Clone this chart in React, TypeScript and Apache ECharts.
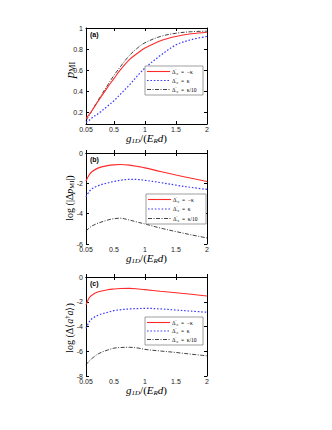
import React, { useEffect, useRef } from "react";
import * as echarts from "echarts";

const X = [0.05, 0.1, 0.15, 0.25, 0.4, 0.5, 0.6, 0.75, 0.9, 1, 1.25, 1.5, 1.75, 2];

const A_RED = [0.14, 0.18, 0.22, 0.31, 0.44, 0.52, 0.6, 0.7, 0.77, 0.81, 0.88, 0.92, 0.945, 0.96];
const A_BLUE = [0.105, 0.125, 0.15, 0.19, 0.26, 0.31, 0.37, 0.46, 0.56, 0.62, 0.74, 0.84, 0.89, 0.92];
const A_BLACK = [0.12, 0.17, 0.22, 0.32, 0.46, 0.55, 0.63, 0.74, 0.82, 0.86, 0.92, 0.95, 0.965, 0.97];

const B_RED = [-1.85, -1.45, -1.22, -0.98, -0.83, -0.78, -0.76, -0.8, -0.9, -0.98, -1.22, -1.45, -1.67, -1.88];
const B_BLUE = [-2.9, -2.55, -2.35, -2.15, -1.97, -1.88, -1.8, -1.74, -1.75, -1.8, -1.95, -2.12, -2.27, -2.4];
const B_BLACK = [-5.15, -4.95, -4.8, -4.62, -4.42, -4.33, -4.3, -4.42, -4.58, -4.68, -4.95, -5.18, -5.4, -5.6];

const C_RED = [-2.25, -1.7, -1.45, -1.2, -1.03, -0.97, -0.93, -0.92, -0.97, -1.02, -1.15, -1.27, -1.4, -1.53];
const C_BLUE = [-4.15, -3.65, -3.35, -3.08, -2.85, -2.72, -2.65, -2.58, -2.55, -2.53, -2.58, -2.67, -2.76, -2.85];
const C_BLACK = [-7.1, -6.8, -6.57, -6.2, -5.9, -5.75, -5.7, -5.68, -5.75, -5.85, -5.98, -6.1, -6.24, -6.37];

const X_TICKS = [0.05, 0.5, 1, 1.5, 2];
const A_TICKS = [0.2, 0.4, 0.6, 0.8, 1];

const PANELS = [
  { id: "(a)", red: A_RED, blue: A_BLUE, black: A_BLACK, yMin: 0.09, yMax: 1, yTicks: A_TICKS },
  { id: "(b)", red: B_RED, blue: B_BLUE, black: B_BLACK, yMin: -6, yMax: 0, yTicks: [-6, -4, -2, 0] },
  { id: "(c)", red: C_RED, blue: C_BLUE, black: C_BLACK, yMin: -8, yMax: 0, yTicks: [-8, -6, -4, -2, 0] },
];

const LEGEND_LABELS = ["−κ", "κ", "κ/10"];

const GRIDS = [
  { left: 86, top: 28, width: 121, height: 96 },
  { left: 86, top: 153, width: 121, height: 91 },
  { left: 86, top: 277, width: 121, height: 99 },
];

const LEGEND_BOX = [
  { x: 145, y: 66, w: 58, h: 29 },
  { x: 146, y: 194, w: 60, h: 30 },
  { x: 145, y: 317, w: 58, h: 28 },
];

const RED = "#ff2a2a";
const BLUE = "#3b3bff";
const BLACK = "#111";
const STYLES = [
  { color: RED, width: 1.1, dash: "solid" as any },
  { color: BLUE, width: 1.2, dash: [1.6, 1.8] as any },
  { color: BLACK, width: 0.8, dash: [4, 1.5, 1, 1.5] as any },
];

const SERIF = "Liberation Serif";
const SANS = "Liberation Sans";

export default function App() {
  const ref = useRef<HTMLDivElement>(null);
  useEffect(() => {
    if (!ref.current) return;
    const chart = echarts.init(ref.current, undefined, { renderer: "svg" });

    const xAxis: any[] = [];
    const yAxis: any[] = [];
    const series: any[] = [];
    const graphic: any[] = [];

    PANELS.forEach((p, i) => {
      const g = GRIDS[i];
      xAxis.push({
        gridIndex: i,
        type: "value",
        min: 0.05,
        max: 2,
        axisLine: { show: true, lineStyle: { color: "#000", width: 1 } },
        axisTick: { show: true, inside: true, length: 3, customValues: X_TICKS, lineStyle: { color: "#000" } },
        axisLabel: {
          customValues: X_TICKS,
          formatter: (v: number) => String(v),
          fontSize: 7,
          color: "#222",
          margin: 2,
          fontFamily: SANS,
        },
        splitLine: { show: false },
      });
      xAxis.push({
        gridIndex: i,
        type: "value",
        position: "top",
        min: 0.05,
        max: 2,
        axisLine: { show: true, lineStyle: { color: "#000", width: 1 } },
        axisTick: { show: true, inside: true, length: 3, customValues: X_TICKS, lineStyle: { color: "#000" } },
        axisLabel: { show: false },
        splitLine: { show: false },
      });
      yAxis.push({
        gridIndex: i,
        type: "value",
        min: p.yMin,
        max: p.yMax,
        axisLine: { show: true, lineStyle: { color: "#000", width: 1 } },
        axisTick: { show: true, inside: true, length: 3, customValues: p.yTicks, lineStyle: { color: "#000" } },
        axisLabel: {
          customValues: p.yTicks,
          formatter: (v: number) => String(v),
          fontSize: 7,
          color: "#222",
          margin: 3,
          fontFamily: SANS,
        },
        splitLine: { show: false },
      });
      yAxis.push({
        gridIndex: i,
        type: "value",
        position: "right",
        min: p.yMin,
        max: p.yMax,
        axisLine: { show: true, lineStyle: { color: "#000", width: 1 } },
        axisTick: { show: true, inside: true, length: 3, customValues: p.yTicks, lineStyle: { color: "#000" } },
        axisLabel: { show: false },
        splitLine: { show: false },
      });

      [p.red, p.blue, p.black].forEach((arr, k) => {
        const s = STYLES[k];
        series.push({
          type: "line",
          xAxisIndex: i * 2,
          yAxisIndex: i * 2,
          data: X.map((x, j) => [x, arr[j]]),
          showSymbol: false,
          smooth: 0.35,
          lineStyle: { color: s.color, width: s.width, type: s.dash },
          z: 3 - k + 2,
        });
      });

      // panel label
      graphic.push({
        type: "text",
        x: g.left + 4,
        y: g.top + 6,
        z: 100,
        style: { text: p.id, fontSize: 7, fontWeight: "bold", fontFamily: SANS, fill: "#000", verticalAlign: "middle" },
      });

      // x title
      graphic.push({
        type: "text",
        x: g.left + g.width / 2,
        y: g.top + g.height + 14,
        z: 100,
        style: {
          text: "{i|g}{s|1D}{n|/(}{i|E}{s|R}{i|d}{n|)}",
          align: "center",
          verticalAlign: "middle",
          rich: {
            i: { fontFamily: SERIF, fontStyle: "italic", fontSize: 11, fill: "#000" },
            n: { fontFamily: SERIF, fontSize: 11, fill: "#000" },
            s: { fontFamily: SERIF, fontStyle: "italic", fontSize: 7, fill: "#000", padding: [5, 0, 0, 0] },
          },
        },
      });

      // legend
      const lb = LEGEND_BOX[i];
      graphic.push({
        type: "rect",
        z: 100,
        shape: { x: lb.x, y: lb.y, width: lb.w, height: lb.h },
        style: { fill: "#fff", stroke: "#777", lineWidth: 0.7 },
      });
      LEGEND_LABELS.forEach((lab, k) => {
        const s = STYLES[k];
        const ry = lb.y + 5.5 + k * (lb.h - 11) / 2;
        graphic.push({
          type: "line",
          z: 101,
          shape: { x1: lb.x + 2, y1: ry, x2: lb.x + 25, y2: ry },
          style: { stroke: s.color, lineWidth: s.width, lineDash: s.dash === "solid" ? null : s.dash },
        });
        graphic.push({
          type: "text",
          z: 101,
          x: lb.x + 27,
          y: ry,
          style: {
            text: "{n|Δ}{p|′}{s|c}{n|  =  " + lab + "}",
            verticalAlign: "middle",
            rich: {
              n: { fontFamily: SERIF, fontSize: 5.5, fill: "#000" },
              p: { fontFamily: SERIF, fontSize: 4, fill: "#000", padding: [0, 0, 3, 0] },
              s: { fontFamily: SERIF, fontSize: 4, fill: "#000", padding: [3, 0, 0, 0] },
            },
          },
        });
      });
    });

    const ROT = Math.PI / 2;
    const YT_X = 69;
    // y titles
    graphic.push({
      type: "text",
      x: YT_X,
      y: 70,
      rotation: ROT,
      z: 100,
      style: {
        text: "{i|p}{s|MI}",
        align: "center",
        verticalAlign: "middle",
        rich: {
          i: { fontFamily: SERIF, fontStyle: "italic", fontSize: 13, fill: "#000" },
          s: { fontFamily: SERIF, fontSize: 8, fill: "#000", padding: [6, 0, 0, 0] },
        },
      },
    });
    graphic.push({
      type: "text",
      x: YT_X,
      y: 198,
      rotation: ROT,
      z: 100,
      style: {
        text: "{n|log (|Δ}{i|p}{s|MI}{n||)}",
        align: "center",
        verticalAlign: "middle",
        rich: {
          n: { fontFamily: SERIF, fontSize: 10, fill: "#000" },
          i: { fontFamily: SERIF, fontStyle: "italic", fontSize: 10, fill: "#000" },
          s: { fontFamily: SERIF, fontSize: 6.5, fill: "#000", padding: [5, 0, 0, 0] },
        },
      },
    });
    graphic.push({
      type: "text",
      x: YT_X,
      y: 328,
      rotation: ROT,
      z: 100,
      style: {
        text: "{n|log (Δ⟨}{i|a}{p|†}{i|a}{n|⟩)}",
        align: "center",
        verticalAlign: "middle",
        rich: {
          n: { fontFamily: SERIF, fontSize: 10, fill: "#000" },
          i: { fontFamily: SERIF, fontStyle: "italic", fontSize: 10, fill: "#000" },
          p: { fontFamily: SERIF, fontSize: 6.5, fill: "#000", padding: [0, 0, 5, 0] },
        },
      },
    });

    chart.setOption({
      animation: false,
      backgroundColor: "#fff",
      grid: GRIDS.map((g) => ({ ...g, show: false, containLabel: false })),
      xAxis,
      yAxis,
      series,
      graphic,
    });
    return () => chart.dispose();
  }, []);
  return <div ref={ref} style={{ position: "absolute", left: 0, top: 0, width: 332, height: 430 }} />;
}
